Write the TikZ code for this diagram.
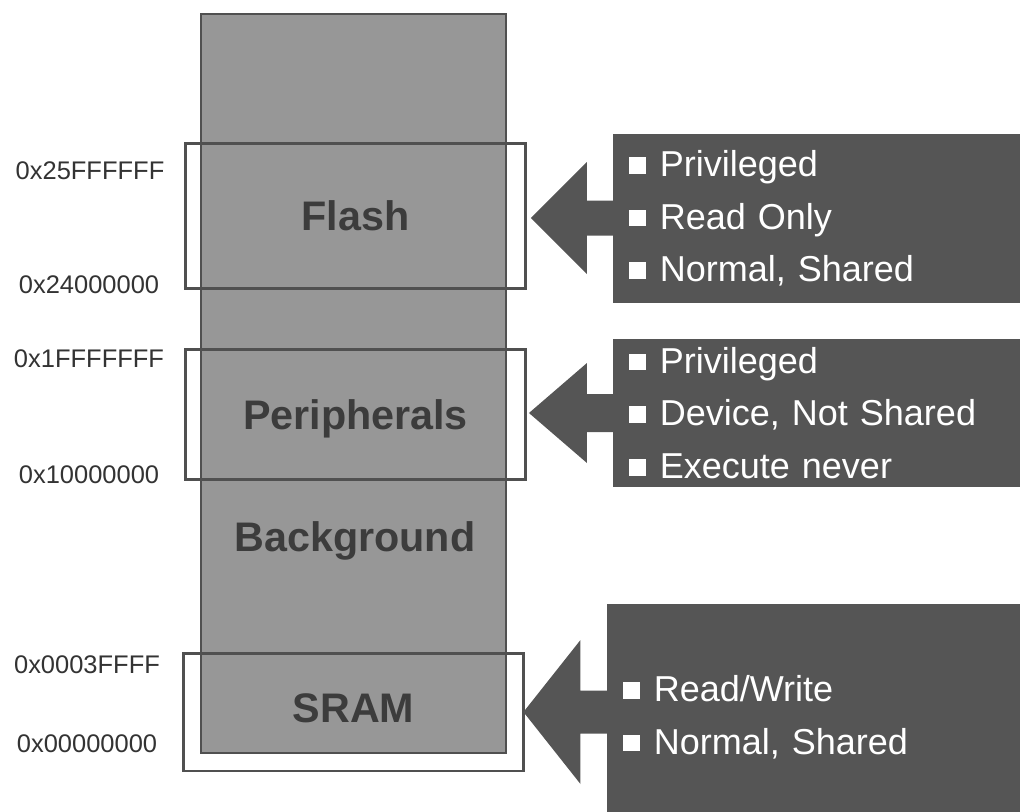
\documentclass[tikz,border=0pt]{standalone}
\usepackage{fontspec}
\setmainfont{Liberation Sans}
\usetikzlibrary{positioning,calc}
\definecolor{memfill}{HTML}{979797}
\definecolor{memline}{HTML}{505050}
\definecolor{boxfill}{HTML}{555555}
\definecolor{regtext}{HTML}{3C3C3C}
\newcommand{\bitem}[1]{\raisebox{1.6pt}{\rule{9.5pt}{9.5pt}}\hspace{8pt}#1}
\tikzset{%
  memory/.style={rectangle,draw=memline,fill=memfill,line width=1.2pt,inner sep=0pt,minimum width=6.1cm,minimum height=14.78cm},
  region/.style={rectangle,draw=memline,line width=1.7pt,inner sep=0pt,minimum width=6.8cm},
  regname/.style={text=regtext,font=\fontsize{23.5}{28}\selectfont\bfseries,inner sep=0pt,text depth=0pt},
  addr/.style={text=black!80,font=\fontsize{14.5}{17}\selectfont,inner sep=0pt,text depth=0pt},
  attrs/.style={rectangle,fill=boxfill,text=white,align=left,font=\fontsize{20.5}{30}\selectfont,inner xsep=0.32cm,inner ysep=0pt,text width=7.7cm,minimum width=8.34cm},
  blockarrow/.style={fill=boxfill}%
}

\begin{document}
\begin{tikzpicture}[x=0.02cm,y=-0.02cm]
    \useasboundingbox (0,0) rectangle (1020,811);
    \clip (0,0) rectangle (1020,811);

    \node (memory) [memory] at (353.5,383.5) {};
    \node (flash) [region, minimum height=2.92cm] at (355.5,216) {};
    \node (periph) [region, minimum height=2.62cm] at (355.5,414.5) {};
    \node (sram) [region, minimum width=6.82cm, minimum height=2.36cm] at (353.5,712) {};

    \node (flash_name) [regname] at (flash) {Flash};
    \node (periph_name) [regname] at (periph) {Peripherals};
    \node (back_name) [regname] at (355,537) {Background};
    \node (sram_name) [regname] at (353.5,708) {SRAM};

    \node (flash_hi) [addr] at (90,171) {0x25FFFFFF};
    \node (flash_lo) [addr] at (89,285) {0x24000000};
    \node (periph_hi) [addr] at (89,359) {0x1FFFFFFF};
    \node (periph_lo) [addr] at (89,475) {0x10000000};
    \node (sram_hi) [addr] at (87,665) {0x0003FFFF};
    \node (sram_lo) [addr] at (87,744) {0x00000000};

    \node (flash_attrs) [attrs, minimum height=3.38cm] at (821.5,218.5)
      {\bitem{Privileged}\\ \bitem{Read Only}\\ \bitem{Normal, Shared}};
    \node (periph_attrs) [attrs, minimum height=2.96cm] at (821.5,413)
      {\bitem{Privileged}\\ \bitem{Device, Not Shared}\\ \bitem{Execute never}};
    \node (sram_attrs) [attrs, minimum height=4.52cm] at (815.5,717)
      {\bitem{Read/Write}\\ \bitem{Normal, Shared}};

    \fill[blockarrow] ($(flash.east)+(4,2)$) -- ++(56,-56) -- ++(0,38.5) -- ++(30,0)
        -- ++(0,35) -- ++(-30,0) -- ++(0,38.5) -- cycle;
    \fill[blockarrow] ($(periph.east)+(2,-1.5)$) -- ++(58,-50) -- ++(0,31) -- ++(30,0)
        -- ++(0,38) -- ++(-30,0) -- ++(0,31) -- cycle;
    \fill[blockarrow] ($(sram.east)+(-2,0)$) -- ++(57,-72) -- ++(0,50.5) -- ++(30,0)
        -- ++(0,43) -- ++(-30,0) -- ++(0,50.5) -- cycle;

\end{tikzpicture}
\end{document}
